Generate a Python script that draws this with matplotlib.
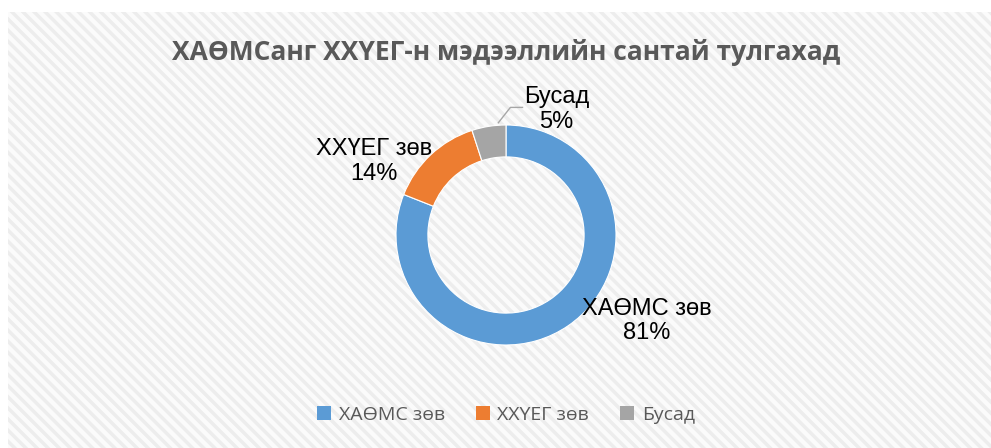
import matplotlib
matplotlib.use('Agg')
import matplotlib.pyplot as plt
from matplotlib.patches import Rectangle

# data
categories = ['ХАӨМС зөв', 'ХХҮЕГ зөв', 'Бусад']
shares = [81, 14, 5]
colors = ['#5b9bd5', '#ed7d31', '#a5a5a5']
title = 'ХАӨМСанг ХХҮЕГ-н мэдээллийн сантай тулгахад'

W, H = 991, 448
plt.rcParams['hatch.linewidth'] = 2.5
plt.rcParams['hatch.color'] = '#ededed'

fig = plt.figure(figsize=(W / 100, H / 100), dpi=100)
fig.patch.set_facecolor('white')

# hatched chart-area background like the Excel style
bg_ax = fig.add_axes([8 / W, 0, 1 - 8 / W, 1 - 12 / H], zorder=-1)
bg_ax.axis('off')
bg_ax.add_patch(Rectangle((0, 0), 1, 1, transform=bg_ax.transAxes, facecolor='#fbfbfb',
                          edgecolor='#ededed', hatch='\\\\\\', linewidth=0))

# donut
cx, cy, r = 506, 235, 110
ax = fig.add_axes([(cx - r) / W, (H - cy - r) / H, 2 * r / W, 2 * r / H])
ax.set_facecolor('none')
wedges, _ = ax.pie(shares, colors=colors, startangle=90, counterclock=False,
                   radius=1, wedgeprops=dict(width=0.29, linewidth=0.8, edgecolor='white'))
ax.set_xlim(-1, 1)
ax.set_ylim(-1, 1)
ax.set_aspect('equal')
ax.axis('off')

lab_font = ['Liberation Sans', 'DejaVu Sans']
label_pos = [(1.28, -0.78), (-1.20, 0.67), (0.46, 1.14)]
for name, val, (lx, ly) in zip(categories, shares, label_pos):
    ax.text(lx, ly, f'{name}\n{val}%', ha='center', va='center', fontsize=17,
            family=lab_font, color='black', linespacing=1.15, clip_on=False)

# leader line for the small slice
ax.plot([-0.07, 0.04, 0.15], [1.02, 1.16, 1.16], color='#a6a6a6', lw=1.0, clip_on=False)

fig.text(cx / W, 1 - 52 / H, title, ha='center', va='center', fontsize=19,
         fontweight='bold', color='#595959', family=['Open Sans', 'DejaVu Sans'])

handles = [Rectangle((0, 0), 1, 1, facecolor=c) for c in colors]
leg = fig.legend(handles, categories, loc='center', bbox_to_anchor=(cx / W, 1 - 415 / H),
                 ncol=3, frameon=False, handlelength=0.7, handleheight=0.7,
                 handletextpad=0.4, columnspacing=1.6,
                 prop={'family': ['Open Sans', 'DejaVu Sans'], 'size': 14})
for t in leg.get_texts():
    t.set_color('#595959')

fig.savefig('out.png', dpi=100, facecolor=fig.get_facecolor())
